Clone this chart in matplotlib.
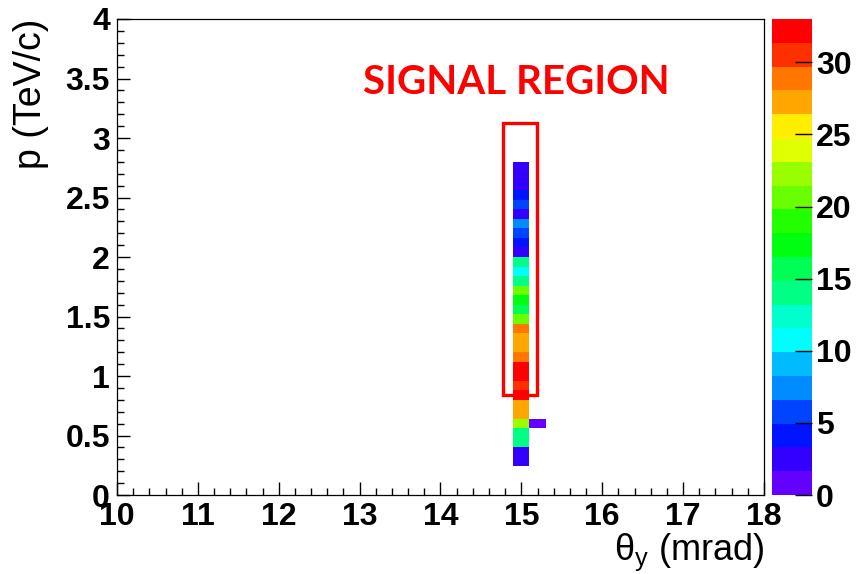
import colorsys

import matplotlib
matplotlib.use("Agg")
import matplotlib.pyplot as plt
import numpy as np
from matplotlib.colors import ListedColormap, Normalize
from matplotlib.patches import Rectangle
from matplotlib.ticker import FormatStrFormatter, MultipleLocator

# binning: theta_y (mrad) columns and p (TeV/c) rows
theta_edges = [14.9, 15.1, 15.3]
p_edges = np.round(np.arange(0.24, 2.80 + 1e-9, 0.08), 2)

# entries per p bin in the 14.9-15.1 mrad column, from p = 0.24 upward
counts_col = [3, 3, 14, 14, 22, 27, 28, 33, 31, 32, 33, 29, 27, 28, 29, 21,
              16, 18, 21, 14, 11, 14, 3, 4, 5, 7, 2, 5, 4, 3, 2, 3]
# lone entry in the 15.1-15.3 mrad column
side_p_low = 0.56
side_count = 1

z_max = 33
n_levels = 20
cbar_ticks = [0, 5, 10, 15, 20, 25, 30]

# signal region box (theta, p) and label
box_theta = (14.775, 15.195)
box_p = (0.84, 3.13)
label_text = "SIGNAL REGION"


def root_palette(n_levels, n_colors=50):
    # ROOT "pretty" palette (violet -> red), picked the way COLZ picks contour colours
    cols = []
    for k in range(n_levels):
        idx = int((k + 0.99) * n_colors / n_levels)
        hue = 280.0 - (idx + 1) * 280.0 / n_colors
        cols.append(colorsys.hls_to_rgb(hue / 360.0, 0.5, 1.0))
    return ListedColormap(cols)


plt.rcParams["font.family"] = ["Liberation Sans", "DejaVu Sans"]
plt.rcParams["font.weight"] = "bold"
plt.rcParams["mathtext.fontset"] = "custom"
plt.rcParams["mathtext.rm"] = "Liberation Sans:weight=normal"
plt.rcParams["mathtext.it"] = "Liberation Sans:italic:weight=normal"

Z = np.full((len(p_edges) - 1, 2), np.nan)
Z[:, 0] = counts_col
Z[int(np.argmin(np.abs(p_edges[:-1] - side_p_low))), 1] = side_count
Z = np.ma.masked_invalid(Z)

fig = plt.figure(figsize=(8.56, 5.74), dpi=100)
ax = fig.add_axes([0.1367, 0.1376, 0.7558, 0.8293])
cax = fig.add_axes([0.9019, 0.1376, 0.0467, 0.8293])

cmap = root_palette(n_levels)
norm = Normalize(vmin=0, vmax=z_max)
mesh = ax.pcolormesh(theta_edges, p_edges, Z, cmap=cmap, norm=norm)

ax.set_xlim(10, 18)
ax.set_ylim(0, 4)
ax.xaxis.set_major_locator(MultipleLocator(1))
ax.xaxis.set_minor_locator(MultipleLocator(0.2))
ax.yaxis.set_major_locator(MultipleLocator(0.5))
ax.yaxis.set_minor_locator(MultipleLocator(0.1))
ax.xaxis.set_major_formatter(FormatStrFormatter("%g"))
ax.yaxis.set_major_formatter(FormatStrFormatter("%g"))
ax.tick_params(which="major", direction="in", length=9.5, width=1.0,
               labelsize=23, top=False, right=False, pad=5)
ax.tick_params(which="minor", direction="in", length=5, width=1.0,
               top=False, right=False)
for sp in ax.spines.values():
    sp.set_linewidth(0.9)

ax.set_xlabel("θ$_\\mathrm{y}$ (mrad)", fontsize=26, fontweight="normal",
              loc="right", labelpad=0)
ax.set_ylabel("p (TeV/c)", fontsize=27, fontweight="normal",
              loc="top", labelpad=12)

ax.add_patch(Rectangle((box_theta[0], box_p[0]), box_theta[1] - box_theta[0],
                       box_p[1] - box_p[0], fill=False, edgecolor="#ff0000",
                       linewidth=2.4, zorder=3))
ax.text(14.94, 3.47, label_text, color="#ff0000", fontsize=29,
        fontweight="bold", family=["Lato", "DejaVu Sans"],
        ha="center", va="center")

cb = fig.colorbar(mesh, cax=cax, ticks=cbar_ticks)
cb.outline.set_visible(False)
cax.tick_params(direction="in", length=12, width=1.0, labelsize=23, pad=3)

fig.savefig("out.png", dpi=100)
